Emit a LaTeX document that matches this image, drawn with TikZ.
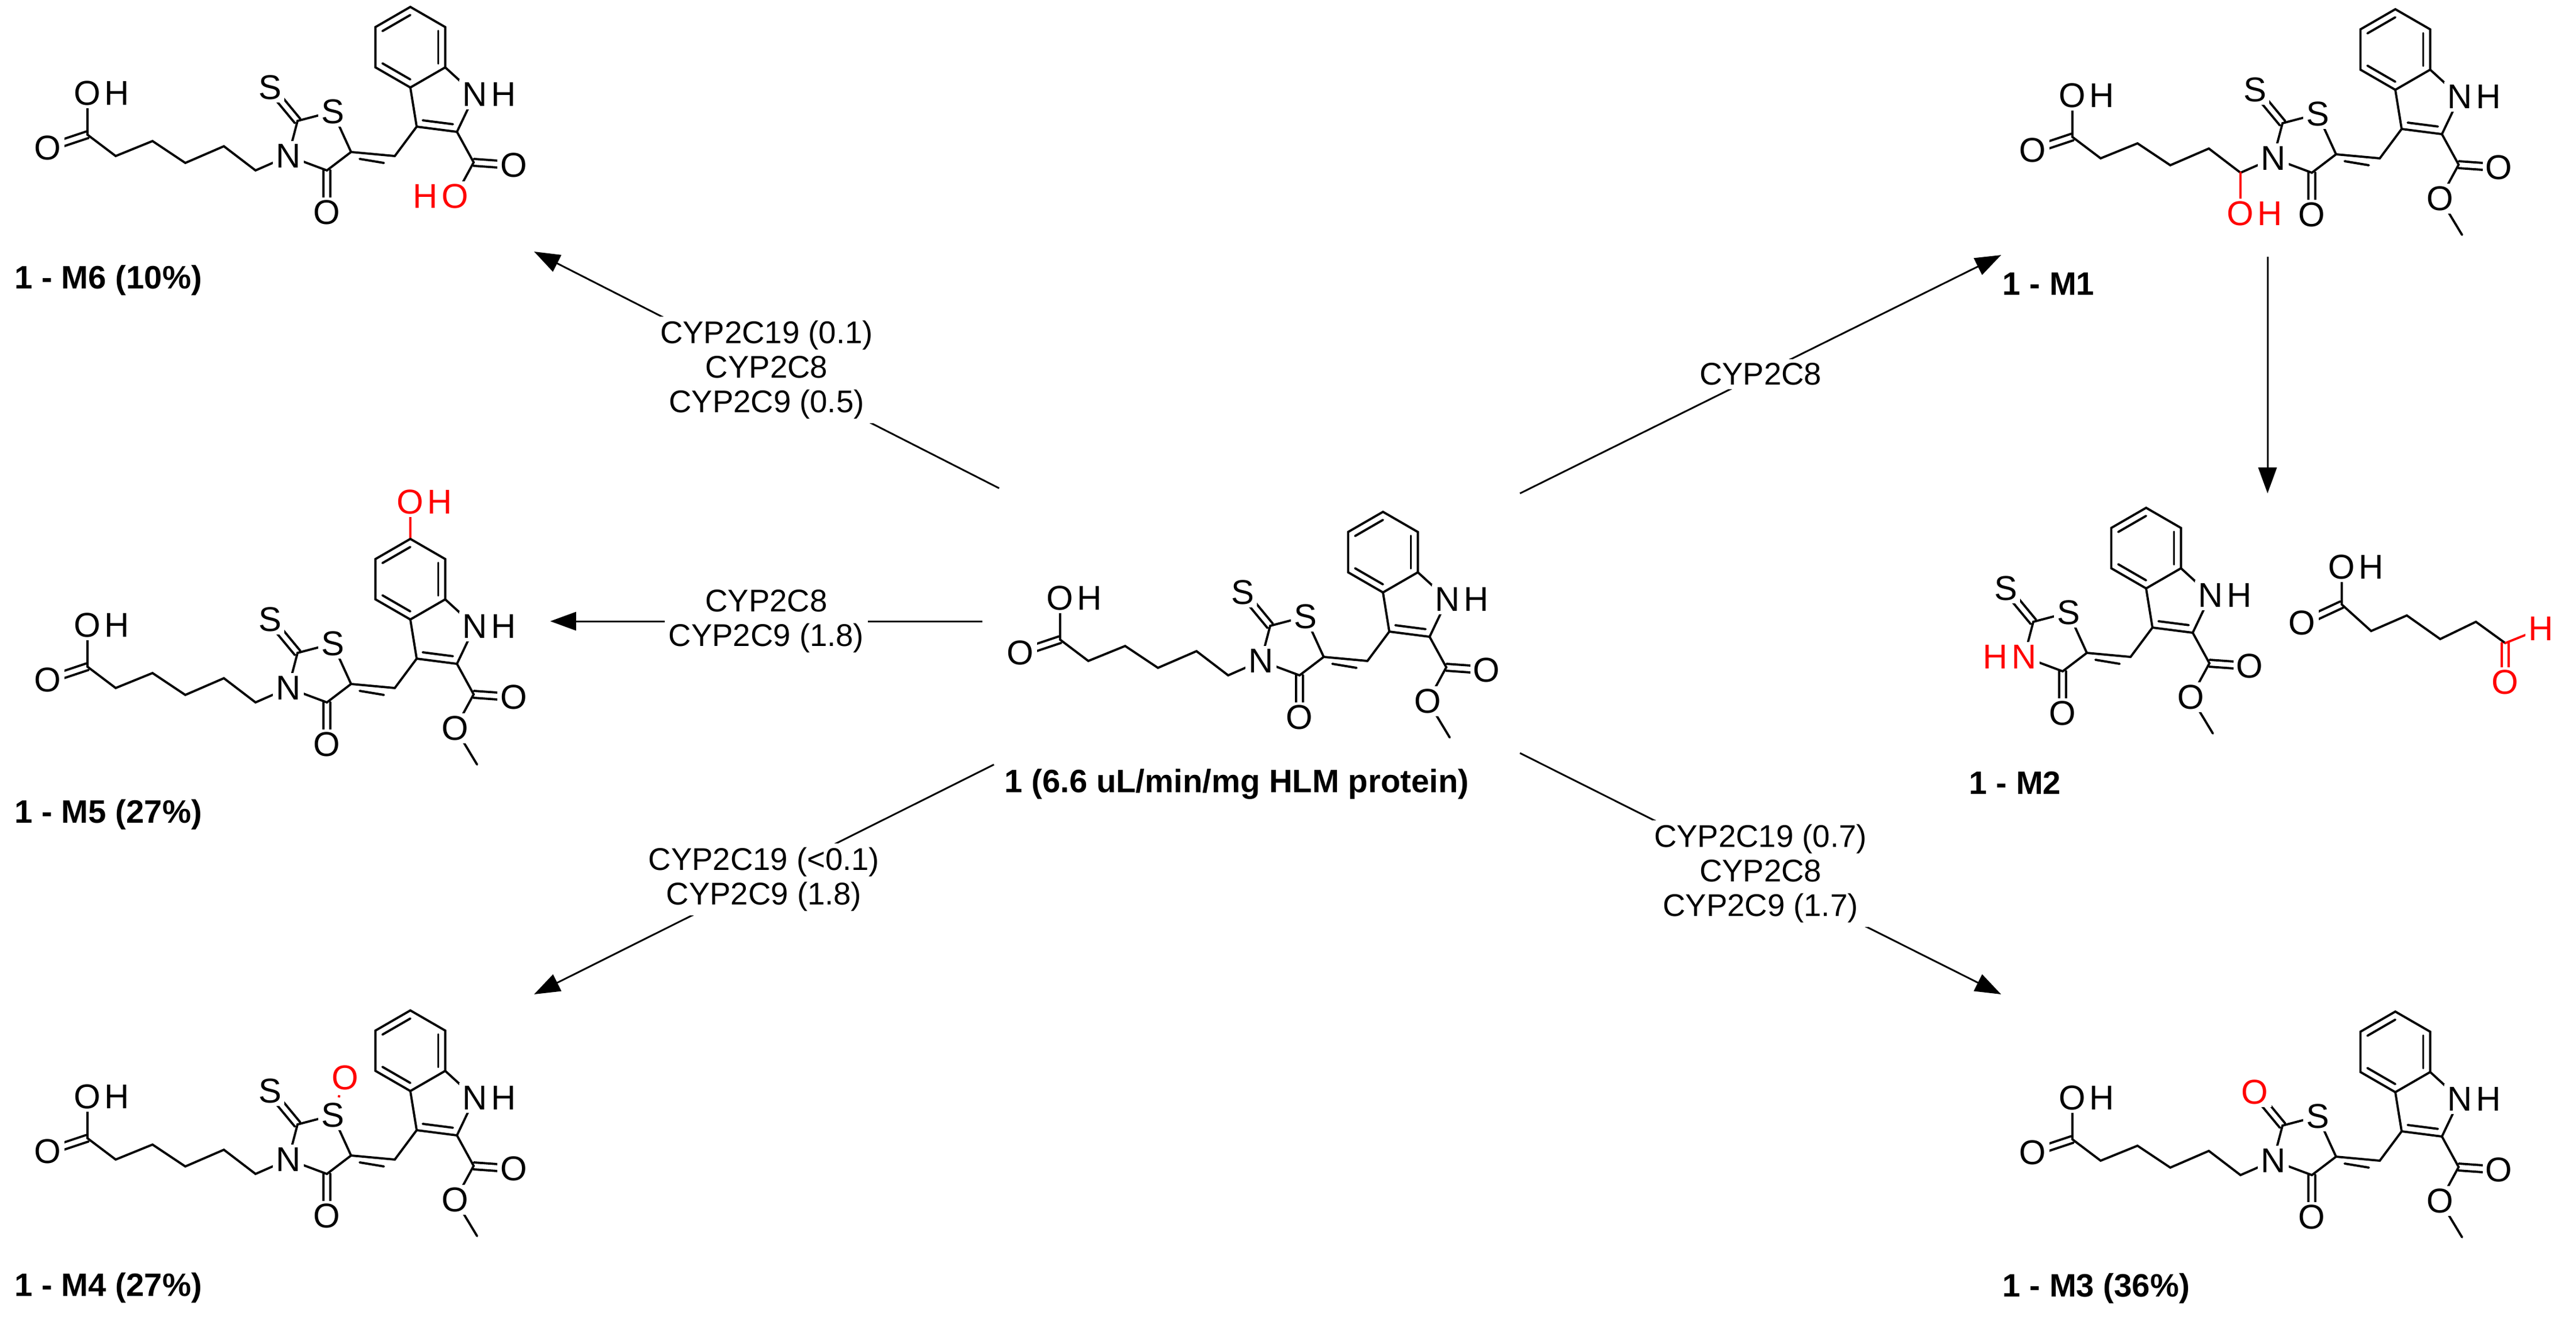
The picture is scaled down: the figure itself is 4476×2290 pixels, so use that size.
\documentclass[tikz,border=0pt]{standalone}
\usepackage{fontspec}
\setmainfont{Liberation Sans}
\usetikzlibrary{calc,arrows.meta}
\tikzset{
  bond/.style={line width=1.1pt,line cap=round},
  rbond/.style={bond,red},
  al/.style={fill=white,inner sep=1.5pt,font=\fontsize{17}{20}\selectfont},
  alh/.style={inner sep=0pt,font=\fontsize{17}{20}\selectfont},
  tag/.style={anchor=west,inner sep=0pt,font=\fontsize{16}{19}\selectfont\bfseries},
  rx/.style={line width=0.85pt,-{Triangle[length=0.45cm,width=0.32cm]}},
  enz/.style={fill=white,align=center,inner sep=2pt,font=\fontsize{15.5}{17}\selectfont}
}
\newcommand\dbl[3][bond]{%
  \draw[#1] ($(#2)!0.06cm!90:(#3)$) -- ($(#3)!0.06cm!-90:(#2)$);
  \draw[#1] ($(#2)!0.06cm!-90:(#3)$) -- ($(#3)!0.06cm!90:(#2)$);}
% #1 extra bonds (chain), #2 thione label, #3 ether part, #4 ring N label
\newcommand\mol[4]{%
  \coordinate (N) at (0,0);
  \coordinate (C2) at (16,-61); \coordinate (Sd) at (-32,-119);
  \coordinate (Sr) at (77,-77); \coordinate (C5) at (109,-7);
  \coordinate (C4) at (67,25); \coordinate (O4) at (67,98);
  \coordinate (CH) at (185,0); \coordinate (C3) at (223,-51);
  \coordinate (C2p) at (293,-42); \coordinate (NHa) at (324,-107);
  \coordinate (Q) at (212,-189);
  \coordinate (C3a) at (212,-119); \coordinate (C7a) at (272.6,-154);
  \coordinate (C4b) at (151.4,-154); \coordinate (C5b) at (151.4,-224);
  \coordinate (C6b) at (212,-259); \coordinate (C7b) at (272.6,-224);
  \coordinate (P5) at (265,-95);
  \coordinate (Cest) at (322,11); \coordinate (Od) at (392,16);
  \coordinate (Oe) at (290,70); \coordinate (Me) at (328,133);
  #1
  \draw[bond] (N)--(C2)--(Sr)--(C5)--(C4)--(N);
  \dbl{C2}{Sd}
  \dbl{C4}{O4}
  \draw[bond] (C5)--(CH)--(C3)--(C2p)--(NHa)--(C7a)--(C3a)--(C3);
  \draw[bond] (124,5)--(166,12);
  \draw[bond] ($(P5)!0.75!(C3)$)--($(P5)!0.75!(C2p)$);
  \draw[bond] (C3a)--(C4b)--(C5b)--(C6b)--(C7b)--(C7a);
  \draw[bond] ($(Q)!0.8!(C5b)$)--($(Q)!0.8!(C6b)$);
  \draw[bond] ($(Q)!0.8!(C7b)$)--($(Q)!0.8!(C7a)$);
  \draw[bond] ($(Q)!0.8!(C3a)$)--($(Q)!0.8!(C4b)$);
  \draw[bond] (C2p)--(Cest)--(Oe);
  \dbl{Cest}{Od}
  \node[al] at (Sd) {#2};
  \node[al] at (Sr) {S};
  \node[al] at (O4) {O};
  \node[al] at (Od) {O};
  \node[al] (nhn) at (NHa) {N};
  \node[alh,anchor=west] at (nhn.east) {H};
  #3
  #4
}
\newcommand\acidchain{%
  \coordinate (Oa) at (-349,-109); \coordinate (C1) at (-349,-37);
  \coordinate (Ol) at (-418,-14);
  \draw[bond] (Oa)--(C1)--(-300,0)--(-236,-26)--(-179,12)--(-112,-17)--(-57,25)--(N);
  \dbl{C1}{Ol}
  \node[al] at (Ol) {O};
  \node[al] (oh) at (Oa) {O};
  \node[alh,anchor=west] at (oh.east) {H};
}
\newcommand\methylester{%
  \draw[bond] (Oe)--(Me);
  \node[al] at (Oe) {O};
}
\newcommand\ringN{\node[al] at (N) {N};}
\begin{document}
\begin{tikzpicture}[x=0.01cm,y=-0.01cm]
\useasboundingbox (0,0) rectangle (4476,2290);
% central
\begin{scope}[shift={(2191,1148)}]
  \mol{\acidchain}{S}{\methylester}{\ringN}
\end{scope}
\node[tag] (lc) at (1745,1362) {1 (6.6 uL/min/mg HLM protein)};
% M6
\begin{scope}[shift={(501,271)}]
  \mol{\acidchain}{S}{\node[al,text=red] (ho) at (Oe) {O};\node[alh,anchor=east,text=red] at (ho.west) {H};}{\ringN}
\end{scope}
\node[tag] (l6) at (25,487) {1 - M6 (10\%)};
% M5
\begin{scope}[shift={(501,1195)}]
  \mol{\acidchain\coordinate (Ox) at (212,-323);\draw[rbond] (212,-259)--(Ox);}{S}{\methylester
    \node[al,text=red] (o5) at (Ox) {O};\node[alh,anchor=west,text=red] at (o5.east) {H};}{\ringN}
\end{scope}
\node[tag] (l5) at (25,1415) {1 - M5 (27\%)};
% M4
\begin{scope}[shift={(501,2014)}]
  \mol{\acidchain\coordinate (Ox) at (99,-142);\draw[red,line width=1.1pt,dotted] (77,-77)--(Ox);}{S}{\methylester
    \node[al,text=red] at (Ox) {O};}{\ringN}
\end{scope}
\node[tag] (l4) at (25,2237) {1 - M4 (27\%)};
% M1
\begin{scope}[shift={(3950,275)}]
  \mol{\acidchain\coordinate (Ox) at (-57,96);\draw[rbond] (-57,25)--(Ox);}{S}{\methylester
    \node[al,text=red] (o1) at (Ox) {O};\node[alh,anchor=west,text=red] at (o1.east) {H};}{\ringN}
\end{scope}
\node[tag] (l1) at (3479,493) {1 - M1};
% M3
\begin{scope}[shift={(3950,2016)}]
  \mol{\acidchain}{\textcolor{red}{O}}{\methylester}{\ringN}
\end{scope}
\node[tag] (l3) at (3479,2238) {1 - M3 (36\%)};
% M2
\begin{scope}[shift={(3517,1141)}]
  \mol{}{S}{\methylester}{\node[al,text=red] (n2) at (N) {N};\node[alh,anchor=east,text=red] at (n2.west) {H};}
\end{scope}
\coordinate (fO) at (4069,985); \coordinate (fC1) at (4069,1050);
\coordinate (fOd) at (4000,1082); \coordinate (fCa) at (4353,1117);
\coordinate (fH) at (4415,1092); \coordinate (fOa) at (4353,1185);
\draw[bond] (fO)--(fC1)--(4120,1096)--(4182,1069)--(4240,1110)--(4302,1080)--(fCa);
\dbl{fC1}{fOd}
\draw[rbond] (fCa)--(fH);
\dbl[rbond]{fCa}{fOa}
\node[al] (fo) at (fO) {O};
\node[alh,anchor=west] at (fo.east) {H};
\node[al] at (fOd) {O};
\node[al,text=red] at (fOa) {O};
\node[al,text=red] at (fH) {H};
\node[tag] (l2) at (3421,1360) {1 - M2};
% arrows
\coordinate (a1s) at (1736,848); \coordinate (a1e) at (928,437);
\coordinate (a2s) at (1707,1079); \coordinate (a2e) at (956,1079);
\coordinate (a3s) at (1727,1328); \coordinate (a3e) at (928,1727);
\coordinate (a4s) at (2641,857); \coordinate (a4e) at (3477,443);
\coordinate (a5s) at (2641,1308); \coordinate (a5e) at (3477,1727);
\coordinate (a6s) at (3940,446); \coordinate (a6e) at (3940,857);
\draw[rx] (a1s) -- node[enz] {CYP2C19 (0.1)\\CYP2C8\\CYP2C9 (0.5)} (a1e);
\draw[rx] (a2s) -- node[enz] {CYP2C8\\CYP2C9 (1.8)} (a2e);
\draw[rx] (a3s) -- node[enz] {CYP2C19 (<0.1)\\CYP2C9 (1.8)} (a3e);
\draw[rx] (a4s) -- node[enz] {CYP2C8} (a4e);
\draw[rx] (a5s) -- node[enz] {CYP2C19 (0.7)\\CYP2C8\\CYP2C9 (1.7)} (a5e);
\draw[rx] (a6s) -- (a6e);
\end{tikzpicture}
\end{document}
